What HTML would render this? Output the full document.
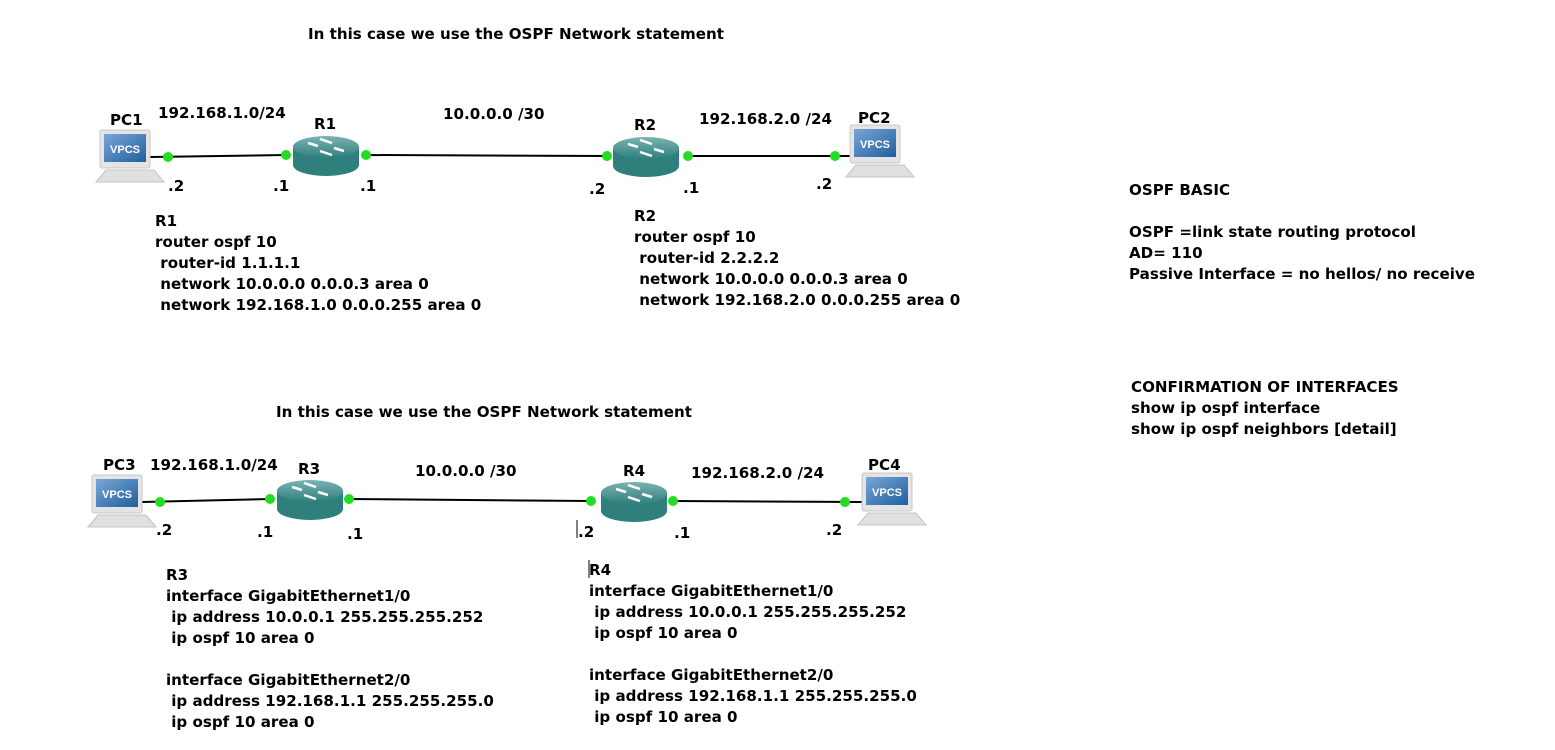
<!DOCTYPE html>
<html><head><style>
body{margin:0;width:1555px;height:750px;background:#fff;position:relative;overflow:hidden;font-family:"DejaVu Sans","Liberation Sans",sans-serif;font-weight:bold;font-size:15.1px;color:#000}
.t{position:absolute;white-space:pre;line-height:21px;margin-top:2px}
svg{position:absolute;left:0;top:0}
</style></head><body>
<svg width="1555" height="750">
<defs>
<linearGradient id="rg" x1="0" y1="0" x2="0" y2="1"><stop offset="0" stop-color="#7bb3b3"/><stop offset="1" stop-color="#2f7f7d"/></linearGradient>
<linearGradient id="sg" x1="0" y1="0" x2="1" y2="1"><stop offset="0" stop-color="#7aa6d6"/><stop offset="1" stop-color="#1f5f9e"/></linearGradient>
<g id="rt">
<path d="M-33,-8 L-33,10 A33,11 0 0 0 33,10 L33,-8 Z" fill="#2f7f7d"/>
<ellipse cx="0" cy="-8" rx="33" ry="11" fill="url(#rg)"/>
<path d="M-18,-12 l10,3 M18,-4 l-10,-3 M-6,-16 l12,4 M6,0 l-12,-4" stroke="#fff" stroke-width="2.5" fill="none"/>
</g>
<g id="pc">
<rect x="0" y="0" width="50" height="38" rx="2" fill="#e4e4e4" stroke="#c8c8c8"/>
<rect x="4" y="4" width="42" height="28" fill="url(#sg)"/>
<text x="25" y="23" font-family="Liberation Sans,sans-serif" font-weight="bold" font-size="11" fill="#fff" text-anchor="middle">VPCS</text>
<path d="M-4,52 L6,40 L54,40 L64,52 Z" fill="#e0e0e0" stroke="#c4c4c4"/>
</g>
</defs>
<g stroke="#000" stroke-width="2">
<line x1="150" y1="157" x2="286" y2="155"/>
<line x1="366" y1="155" x2="607" y2="156"/>
<line x1="688" y1="156" x2="850" y2="156"/>
<line x1="142" y1="502" x2="270" y2="499"/>
<line x1="349" y1="499" x2="591" y2="501"/>
<line x1="673" y1="501" x2="862" y2="502"/>
</g>
<use href="#rt" x="326" y="155"/>
<use href="#rt" x="646" y="156"/>
<use href="#rt" x="310" y="499"/>
<use href="#rt" x="634" y="501"/>
<use href="#pc" x="100" y="130"/>
<use href="#pc" x="850" y="125"/>
<use href="#pc" x="92" y="475"/>
<use href="#pc" x="862" y="473"/>
<g fill="#22dd22">
<circle cx="168" cy="157" r="5"/><circle cx="286" cy="155" r="5"/><circle cx="366" cy="155" r="5"/>
<circle cx="607" cy="156" r="5"/><circle cx="688" cy="156" r="5"/><circle cx="835" cy="156" r="5"/>
<circle cx="160" cy="502" r="5"/><circle cx="270" cy="499" r="5"/><circle cx="349" cy="499" r="5"/>
<circle cx="591" cy="501" r="5"/><circle cx="673" cy="501" r="5"/><circle cx="845" cy="502" r="5"/>
</g>
<line x1="577" y1="520" x2="577" y2="538" stroke="#000" stroke-width="1"/>
<line x1="589" y1="560" x2="589" y2="578" stroke="#000" stroke-width="1"/>
</svg>
<div class="t" style="left:308px;top:22px">In this case we use the OSPF Network statement</div>
<div class="t" style="left:110px;top:108px">PC1</div>
<div class="t" style="left:158px;top:101px">192.168.1.0/24</div>
<div class="t" style="left:314px;top:112px">R1</div>
<div class="t" style="left:443px;top:102px">10.0.0.0 /30</div>
<div class="t" style="left:634px;top:113px">R2</div>
<div class="t" style="left:699px;top:107px">192.168.2.0 /24</div>
<div class="t" style="left:858px;top:106px">PC2</div>
<div class="t" style="left:168px;top:174px">.2</div>
<div class="t" style="left:273px;top:174px">.1</div>
<div class="t" style="left:360px;top:174px">.1</div>
<div class="t" style="left:589px;top:177px">.2</div>
<div class="t" style="left:683px;top:176px">.1</div>
<div class="t" style="left:816px;top:172px">.2</div>
<div class="t" style="left:155px;top:209px">R1
router ospf 10
 router-id 1.1.1.1
 network 10.0.0.0 0.0.0.3 area 0
 network 192.168.1.0 0.0.0.255 area 0</div>
<div class="t" style="left:634px;top:204px">R2
router ospf 10
 router-id 2.2.2.2
 network 10.0.0.0 0.0.0.3 area 0
 network 192.168.2.0 0.0.0.255 area 0</div>
<div class="t" style="left:1129px;top:178px">OSPF BASIC

OSPF =link state routing protocol
AD= 110
Passive Interface = no hellos/ no receive</div>
<div class="t" style="left:1131px;top:375px">CONFIRMATION OF INTERFACES
show ip ospf interface
show ip ospf neighbors [detail]</div>
<div class="t" style="left:276px;top:400px">In this case we use the OSPF Network statement</div>
<div class="t" style="left:103px;top:453px">PC3</div>
<div class="t" style="left:150px;top:453px">192.168.1.0/24</div>
<div class="t" style="left:298px;top:457px">R3</div>
<div class="t" style="left:415px;top:459px">10.0.0.0 /30</div>
<div class="t" style="left:623px;top:459px">R4</div>
<div class="t" style="left:691px;top:461px">192.168.2.0 /24</div>
<div class="t" style="left:868px;top:453px">PC4</div>
<div class="t" style="left:156px;top:518px">.2</div>
<div class="t" style="left:257px;top:520px">.1</div>
<div class="t" style="left:347px;top:522px">.1</div>
<div class="t" style="left:578px;top:520px">.2</div>
<div class="t" style="left:674px;top:521px">.1</div>
<div class="t" style="left:826px;top:518px">.2</div>
<div class="t" style="left:166px;top:563px">R3
interface GigabitEthernet1/0
 ip address 10.0.0.1 255.255.255.252
 ip ospf 10 area 0

interface GigabitEthernet2/0
 ip address 192.168.1.1 255.255.255.0
 ip ospf 10 area 0</div>
<div class="t" style="left:589px;top:558px">R4
interface GigabitEthernet1/0
 ip address 10.0.0.1 255.255.255.252
 ip ospf 10 area 0

interface GigabitEthernet2/0
 ip address 192.168.1.1 255.255.255.0
 ip ospf 10 area 0</div>
</body></html>
